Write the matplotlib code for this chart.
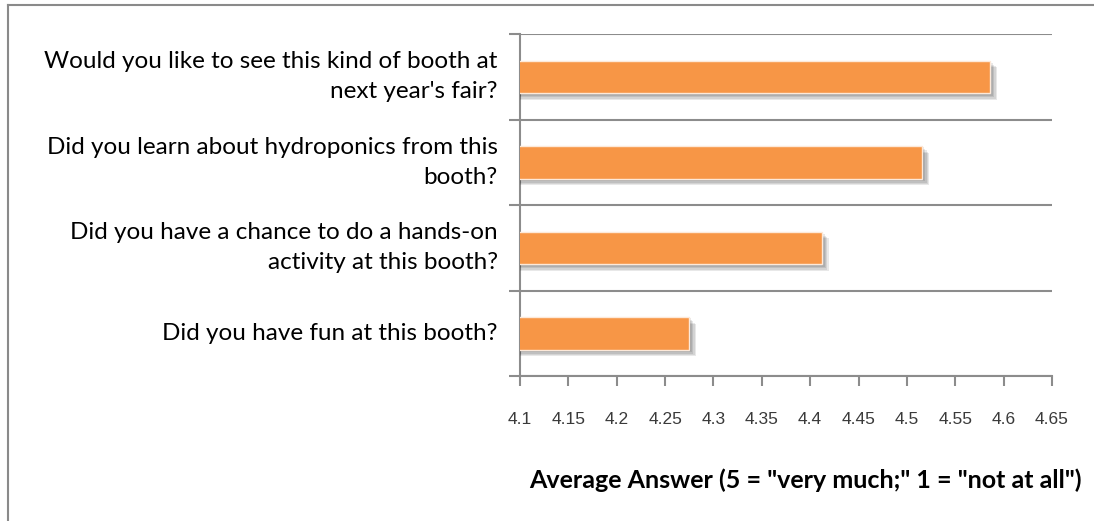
import matplotlib.pyplot as plt
import matplotlib.patheffects as pe
from matplotlib.lines import Line2D

# survey data (bottom to top)
questions = [
    "Did you have fun at this booth?",
    "Did you have a chance to do a hands-on\nactivity at this booth?",
    "Did you learn about hydroponics from this\nbooth?",
    "Would you like to see this kind of booth at\nnext year's fair?",
]
averages = [4.275, 4.412, 4.516, 4.586]
x_ticks = [4.1, 4.15, 4.2, 4.25, 4.3, 4.35, 4.4, 4.45, 4.5, 4.55, 4.6, 4.65]
x_ticklabels = ["4.1", "4.15", "4.2", "4.25", "4.3", "4.35", "4.4", "4.45", "4.5", "4.55", "4.6", "4.65"]
xlabel = 'Average Answer (5 = "very much;" 1 = "not at all")'

fig = plt.figure(figsize=(10.94, 5.21), dpi=100)
ax = fig.add_axes([0.4753, 0.2783, 0.4863, 0.6564])

pos = list(range(len(questions)))
bars = ax.barh(pos, averages, left=0, height=0.38, color="#F79646",
               edgecolor="#fde9d9", linewidth=1.0, zorder=3)
# soft drop shadow, built up from a few faint offset copies
soft = [pe.SimplePatchShadow(offset=(d, -d), shadow_rgbFace="#000000", alpha=0.09)
        for d in (1, 2, 3, 4, 5)]
for b in bars:
    b.set_path_effects(soft + [pe.Normal()])

ax.set_xlim(4.1, 4.65)
ax.set_ylim(-0.5, 3.5)

grey = "#8c8c8c"
ax.set_xticks(x_ticks)
ax.set_xticklabels(x_ticklabels, fontfamily="Liberation Sans", fontsize=12.5, color="#3a3a3a")
ax.tick_params(axis="x", direction="out", length=7, width=1.5, color=grey, pad=19)

bounds = [-0.5, 0.5, 1.5, 2.5, 3.5]
ax.set_yticks(bounds)
ax.set_yticklabels([])
ax.tick_params(axis="y", which="major", direction="out", length=8, width=1.5, color=grey)
ax.set_yticks(pos, minor=True)
ax.set_yticklabels(questions, minor=True, fontfamily="Lato", fontsize=17.5, color="black",
                   linespacing=1.55)
for lbl in ax.get_yticklabels(minor=True):
    lbl.set_va("center")
ax.tick_params(axis="y", which="minor", length=0, pad=16)

ax.grid(axis="y", which="major", color=grey, linewidth=1.5, zorder=0)
ax.set_axisbelow(True)
for s in ["top", "right"]:
    ax.spines[s].set_visible(False)
ax.spines["left"].set_color(grey)
ax.spines["left"].set_linewidth(1.5)
ax.spines["bottom"].set_color(grey)
ax.spines["bottom"].set_linewidth(1.5)

fig.text(0.989, 0.078, xlabel, ha="right", va="center", fontfamily="Lato",
         fontweight="bold", fontsize=18)

# outer chart frame (top and left edges)
fig.add_artist(Line2D([0.0075, 1.0], [0.9905, 0.9905], color="#8a8a8a", linewidth=1.5))
fig.add_artist(Line2D([0.0075, 0.0075], [0.0, 0.9905], color="#8a8a8a", linewidth=1.5))

fig.savefig("out.png", dpi=100)
